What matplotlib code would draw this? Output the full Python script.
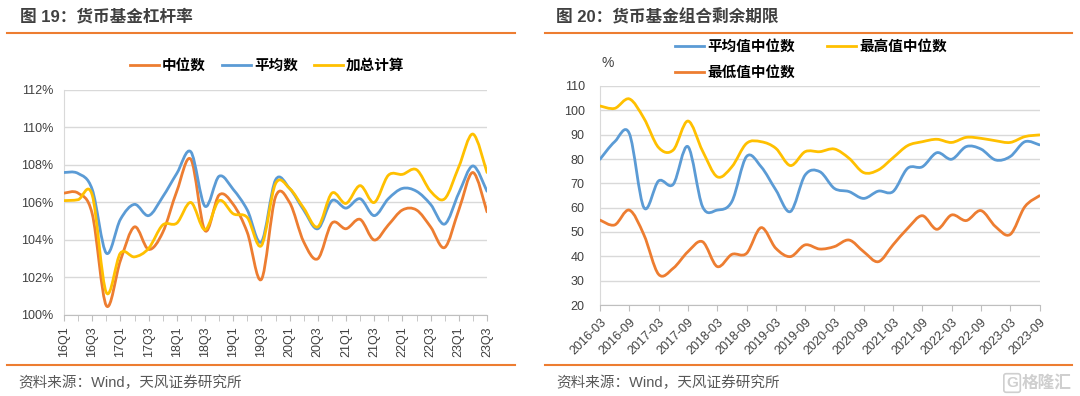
import matplotlib
matplotlib.use("Agg")
import matplotlib.pyplot as plt
from matplotlib.path import Path
from matplotlib.patches import PathPatch
from matplotlib.lines import Line2D
from matplotlib.ticker import PercentFormatter, MultipleLocator

plt.rcParams['font.family'] = ['Liberation Sans', 'Noto Sans CJK SC', 'DejaVu Sans']

# chart 19: money fund leverage, quarterly 16Q1..23Q3
quarters = ['%02dQ%d' % (y, q) for y in range(16, 24) for q in range(1, 5)][:31]
lev_median = [106.5, 106.5, 105.4, 100.5, 102.9, 104.7, 103.5, 104.4, 106.6, 108.3,
              104.5, 106.4, 105.9, 104.4, 101.9, 106.3, 106.0, 103.9, 103.0, 104.9,
              104.6, 105.1, 104.0, 104.8, 105.6, 105.6, 104.7, 103.6, 105.6, 107.6, 105.5]
lev_mean = [107.6, 107.55, 106.7, 103.3, 105.1, 105.9, 105.3, 106.3, 107.55, 108.7,
            105.8, 107.4, 106.7, 105.6, 103.9, 107.2, 106.75, 105.6, 104.6, 106.1,
            105.7, 106.2, 105.3, 106.2, 106.75, 106.6, 105.9, 104.85, 106.5, 107.95, 106.6]
lev_total = [106.1, 106.15, 106.4, 101.2, 103.3, 103.1, 103.55, 104.8, 104.9, 106.0,
             104.55, 106.1, 105.4, 105.2, 103.7, 107.0, 106.75, 105.7, 104.7, 106.5,
             105.95, 106.9, 106.0, 107.45, 107.5, 107.75, 106.6, 106.2, 107.9, 109.65, 107.6]

# chart 20: remaining maturity, quarterly 2016-03..2023-09
months = ['%d-%02d' % (y, m) for y in range(2016, 2024) for m in (3, 6, 9, 12)][:31]
wam_mean = [79.9, 87.1, 90.5, 60.0, 71.0, 69.6, 85.1, 60.4, 59.0, 62.5,
            81.0, 76.8, 67.3, 58.4, 73.4, 74.8, 67.9, 66.6, 63.8, 66.8,
            66.6, 76.2, 76.8, 82.6, 79.9, 85.1, 84.1, 79.6, 81.0, 87.1, 85.8]
wam_high = [101.8, 100.8, 104.7, 96.7, 84.7, 83.7, 95.6, 83.3, 72.7, 76.8,
            86.4, 87.1, 84.4, 77.3, 83.0, 83.0, 84.1, 80.3, 74.4, 75.5,
            80.5, 85.5, 87.1, 88.1, 86.8, 88.9, 88.5, 87.5, 86.8, 89.2, 89.9]
wam_low = [54.9, 52.9, 59.0, 48.8, 32.6, 35.1, 41.9, 46.0, 35.8, 40.8,
           41.2, 51.8, 43.3, 39.9, 44.7, 43.0, 44.0, 46.7, 41.9, 37.8,
           44.7, 51.5, 56.7, 51.1, 57.0, 54.7, 58.8, 52.2, 49.0, 60.4, 64.9]

ORANGE = '#ED7D31'
BLUE = '#5B9BD5'
YELLOW = '#FFC000'
GRID = '#d9d9d9'


def smooth_line(ax, ys, color):
    # excel style smoothed line: bezier segments through each point
    xs = list(range(len(ys)))
    n = len(xs)
    verts = [(xs[0], ys[0])]
    codes = [Path.MOVETO]
    for i in range(n - 1):
        a = i - 1 if i > 0 else i
        b = i + 2 if i + 2 < n else i + 1
        c1 = (xs[i] + (xs[i + 1] - xs[a]) / 6, ys[i] + (ys[i + 1] - ys[a]) / 6)
        c2 = (xs[i + 1] - (xs[b] - xs[i]) / 6, ys[i + 1] - (ys[b] - ys[i]) / 6)
        verts += [c1, c2, (xs[i + 1], ys[i + 1])]
        codes += [Path.CURVE4] * 3
    ax.add_patch(PathPatch(Path(verts, codes), fill=False, edgecolor=color,
                           lw=2.0, capstyle='round', joinstyle='round', zorder=3))
    return Line2D([], [], color=color, lw=2.0)


def style_axes(ax, ypad):
    for s in ['top', 'right']:
        ax.spines[s].set_visible(False)
    ax.spines['left'].set_color(GRID)
    ax.spines['bottom'].set_color('#bfbfbf')
    ax.grid(axis='y', color=GRID, lw=1)
    ax.set_axisbelow(True)
    ax.tick_params(axis='y', length=0, labelsize=9, labelcolor='#404040', pad=ypad)
    ax.tick_params(axis='x', which='both', length=4, color='#bfbfbf',
                   labelsize=9, labelcolor='#404040', direction='out', pad=4)


fig = plt.figure(figsize=(10.8, 3.96), dpi=100)
fig.patch.set_facecolor('white')

# ---- left chart
ax1 = fig.add_axes([64 / 1080, 1 - 315 / 396, 423 / 1080, 225 / 396])
h_med = smooth_line(ax1, lev_median, ORANGE)
h_mean = smooth_line(ax1, lev_mean, BLUE)
h_tot = smooth_line(ax1, lev_total, YELLOW)
ax1.set_xlim(0, len(quarters) - 1)
ax1.set_ylim(100, 112)
ax1.yaxis.set_major_locator(MultipleLocator(2))
ax1.yaxis.set_major_formatter(PercentFormatter(decimals=0))
ax1.set_xticks(range(0, len(quarters), 2))
ax1.set_xticklabels(quarters[::2], rotation=90)
ax1.set_xticks(range(len(quarters)), minor=True)
style_axes(ax1, 7.5)
ax1.legend([h_med, h_mean, h_tot], ['中位数', '平均数', '加总计算'],
           loc='center', bbox_to_anchor=(267 / 1080, 1 - 66 / 396),
           bbox_transform=fig.transFigure, ncol=3, frameon=False,
           handlelength=2.0, handletextpad=0.2, columnspacing=1.1,
           prop={'weight': 'bold', 'size': 10.5})

# ---- right chart
ax2 = fig.add_axes([600 / 1080, 1 - 305 / 396, 439.5 / 1080, 219 / 396])
h_a = smooth_line(ax2, wam_mean, BLUE)
h_h = smooth_line(ax2, wam_high, YELLOW)
h_l = smooth_line(ax2, wam_low, ORANGE)
ax2.set_xlim(0, len(months) - 1)
ax2.set_ylim(20, 110)
ax2.yaxis.set_major_locator(MultipleLocator(10))
ax2.set_xticks(range(0, len(months), 2))
ax2.set_xticklabels(months[::2], rotation=45, ha='right', rotation_mode='anchor')
style_axes(ax2, 11)
ax2.legend([h_a, h_l, h_h], ['平均值中位数', '最低值中位数', '最高值中位数'],
           loc='center', bbox_to_anchor=(811 / 1080, 1 - 60 / 396),
           bbox_transform=fig.transFigure, ncol=2, frameon=False,
           handlelength=2.0, handletextpad=0.2, columnspacing=2.2,
           labelspacing=0.85, prop={'weight': 'bold', 'size': 10.5})
fig.text(608 / 1080, 1 - 63 / 396, '%', ha='center', va='center',
         fontsize=10, color='#404040')

# ---- titles, rules and footers
title_kw = dict(fontsize=12, fontweight='bold', color='#404040', va='center')
fig.text(20 / 1080, 1 - 17 / 396, '图 19：货币基金杠杆率', **title_kw)
fig.text(556 / 1080, 1 - 17 / 396, '图 20：货币基金组合剩余期限', **title_kw)
for x0, x1 in [(7, 515), (545, 1072)]:
    for yy in (33, 365):
        fig.add_artist(Line2D([x0 / 1080, x1 / 1080], [1 - yy / 396] * 2,
                              transform=fig.transFigure, color=ORANGE, lw=1.5))
foot_kw = dict(fontsize=10.5, color='#595959', va='center')
fig.text(18 / 1080, 1 - 383 / 396, '资料来源：Wind，天风证券研究所', **foot_kw)
fig.text(556 / 1080, 1 - 383 / 396, '资料来源：Wind，天风证券研究所', **foot_kw)
fig.text(1072 / 1080, 1 - 383 / 396, '格隆汇', ha='right', va='center',
         fontsize=12, color='#cfcfcf', fontweight='bold')
fig.text(1018 / 1080, 1 - 383 / 396, 'G', ha='right', va='center', fontsize=11,
         color='#cfcfcf', fontweight='bold',
         bbox=dict(boxstyle='round,pad=0.15', fc='none', ec='#cfcfcf', lw=1.2))

fig.savefig('out.png', dpi=100, facecolor='white')
